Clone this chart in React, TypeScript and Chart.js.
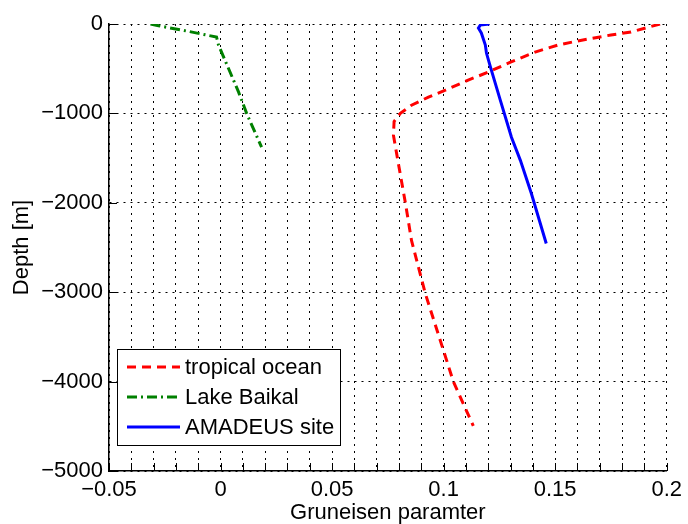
import React, { useEffect, useRef } from "react";
import { Chart, registerables } from "chart.js";

Chart.register(...registerables);

// ---- data ----
const tropicalGamma = [0.197, 0.184, 0.175, 0.16, 0.1514, 0.141, 0.13, 0.12, 0.111, 0.1008, 0.0932, 0.0856, 0.0806, 0.0778, 0.0775, 0.0797, 0.0829, 0.0856, 0.0918, 0.1044, 0.1133];
const tropicalDepth = [0, -90, -123, -190, -235, -314, -426, -538, -628, -740, -818, -908, -1000, -1090, -1244, -1558, -2007, -2421, -3016, -4002, -4496];

const baikalGamma = [-0.0314, -0.0278, -0.0175, -0.0018, -0.0009, 0.0081, 0.0117, 0.0184];
const baikalDepth = [0, -20, -67, -146, -236, -762, -1000, -1378];

const amadeusGamma = [0.1205, 0.1165, 0.1156, 0.1169, 0.1187, 0.1192, 0.121, 0.1254, 0.1304, 0.1344, 0.1393, 0.146];
const amadeusDepth = [0, -10, -45, -100, -235, -325, -482, -852, -1267, -1525, -1894, -2455];

const seriesLabels = ["tropical ocean", "Lake Baikal", "AMADEUS site"];
const xTickLabelsAt = [-0.05, 0, 0.05, 0.1, 0.15, 0.2];
const yTickValues = [0, -1000, -2000, -3000, -4000, -5000];

const FONT = "'Liberation Sans', Arial, Helvetica, sans-serif";

const toPoints = (xs: number[], ys: number[]) => xs.map((x, i) => ({ x, y: ys[i] }));
const minusFmt = (v: number) => (v < 0 ? "\u2212" + String(Math.abs(v)) : String(v));

const extrasPlugin = {
  id: "matlabExtras",
  afterDraw(chart: any) {
    const { ctx, chartArea } = chart;
    const xs = chart.scales.x;
    const ys = chart.scales.y;
    ctx.save();
    // inward tick marks
    ctx.strokeStyle = "#000";
    ctx.lineWidth = 1;
    ctx.setLineDash([]);
    ctx.beginPath();
    xs.ticks.forEach((t: any) => {
      const px = Math.round(xs.getPixelForValue(t.value)) + 0.5;
      ctx.moveTo(px, chartArea.bottom);
      ctx.lineTo(px, chartArea.bottom - 8);
    });
    ys.ticks.forEach((t: any) => {
      const py = Math.round(ys.getPixelForValue(t.value)) + 0.5;
      ctx.moveTo(chartArea.left, py);
      ctx.lineTo(chartArea.left + 8, py);
    });
    ctx.stroke();

    // legend box
    const bx = chartArea.left + 8;
    const by = chartArea.bottom - 122;
    const bw = 223;
    const bh = 96;
    ctx.fillStyle = "#fff";
    ctx.fillRect(bx, by, bw, bh);
    ctx.strokeStyle = "#000";
    ctx.lineWidth = 1;
    ctx.strokeRect(bx + 0.5, by + 0.5, bw, bh);
    ctx.font = `22px ${FONT}`;
    ctx.textBaseline = "middle";
    ctx.textAlign = "left";
    chart.data.datasets.forEach((ds: any, i: number) => {
      const ry = by + 18 + i * 30;
      ctx.strokeStyle = ds.borderColor;
      ctx.lineWidth = ds.borderWidth;
      ctx.setLineDash(ds.borderDash || []);
      ctx.beginPath();
      ctx.moveTo(bx + 10, ry);
      ctx.lineTo(bx + 63, ry);
      ctx.stroke();
      ctx.setLineDash([]);
      ctx.fillStyle = "#000";
      ctx.fillText(ds.label, bx + 68, ry + 1);
    });
    ctx.restore();
  },
};

export default function App() {
  const canvasRef = useRef<HTMLCanvasElement | null>(null);

  useEffect(() => {
    if (!canvasRef.current) return;
    const chart = new Chart(canvasRef.current, {
      type: "scatter",
      data: {
        datasets: [
          {
            label: seriesLabels[0],
            data: toPoints(tropicalGamma, tropicalDepth),
            borderColor: "#ff0000",
            backgroundColor: "#ff0000",
            borderWidth: 3,
            borderDash: [9, 6],
            showLine: true,
            pointRadius: 0,
            tension: 0,
          },
          {
            label: seriesLabels[1],
            data: toPoints(baikalGamma, baikalDepth),
            borderColor: "#008000",
            backgroundColor: "#008000",
            borderWidth: 3,
            borderDash: [10, 4, 2, 4],
            showLine: true,
            pointRadius: 0,
            tension: 0,
          },
          {
            label: seriesLabels[2],
            data: toPoints(amadeusGamma, amadeusDepth),
            borderColor: "#0000ff",
            backgroundColor: "#0000ff",
            borderWidth: 3,
            showLine: true,
            pointRadius: 0,
            tension: 0,
          },
        ],
      },
      plugins: [extrasPlugin],
      options: {
        animation: false,
        responsive: false,
        events: [],
        layout: { padding: { top: 24, right: 20, left: 0, bottom: 0 } },
        plugins: {
          legend: { display: false },
          tooltip: { enabled: false },
          title: { display: false },
        },
        scales: {
          x: {
            type: "linear",
            min: -0.05,
            max: 0.2,
            afterFit: (scale: any) => {
              scale.height = 53;
            },
            ticks: {
              stepSize: 0.01,
              autoSkip: false,
              maxRotation: 0,
              padding: 6,
              color: "#000",
              font: { family: FONT, size: 22 },
              callback: (v: any) => {
                const n = Number(v);
                const hit = xTickLabelsAt.find((t) => Math.abs(t - n) < 1e-9);
                return hit === undefined ? "" : minusFmt(hit);
              },
            },
            grid: {
              color: "#000",
              lineWidth: 1,
              drawTicks: false,
            },
            border: { display: true, color: "#000", width: 1.5, dash: [2, 5] },
            title: {
              display: true,
              text: "Gruneisen paramter",
              color: "#000",
              font: { family: FONT, size: 22, lineHeight: 1 },
              padding: { top: 0, bottom: 0 },
            },
          },
          y: {
            type: "linear",
            min: yTickValues[yTickValues.length - 1],
            max: yTickValues[0],
            afterFit: (scale: any) => {
              scale.width = 109;
            },
            ticks: {
              stepSize: 1000,
              autoSkip: false,
              padding: 6,
              color: "#000",
              font: { family: FONT, size: 22 },
              callback: (v: any) => minusFmt(Number(v)),
            },
            grid: {
              color: "#000",
              lineWidth: 1,
              drawTicks: false,
            },
            border: { display: true, color: "#000", width: 1.5, dash: [2, 5] },
            title: {
              display: true,
              text: "Depth [m]",
              color: "#000",
              font: { family: FONT, size: 22, lineHeight: 1 },
              padding: { top: 11, bottom: 0 },
            },
          },
        },
      } as any,
    });
    return () => chart.destroy();
  }, []);

  return (
    <div style={{ position: "fixed", left: 0, top: 0, width: 688, height: 524, background: "#fff" }}>
      <canvas ref={canvasRef} width={688} height={524} style={{ width: 688, height: 524, display: "block" }} />
    </div>
  );
}
